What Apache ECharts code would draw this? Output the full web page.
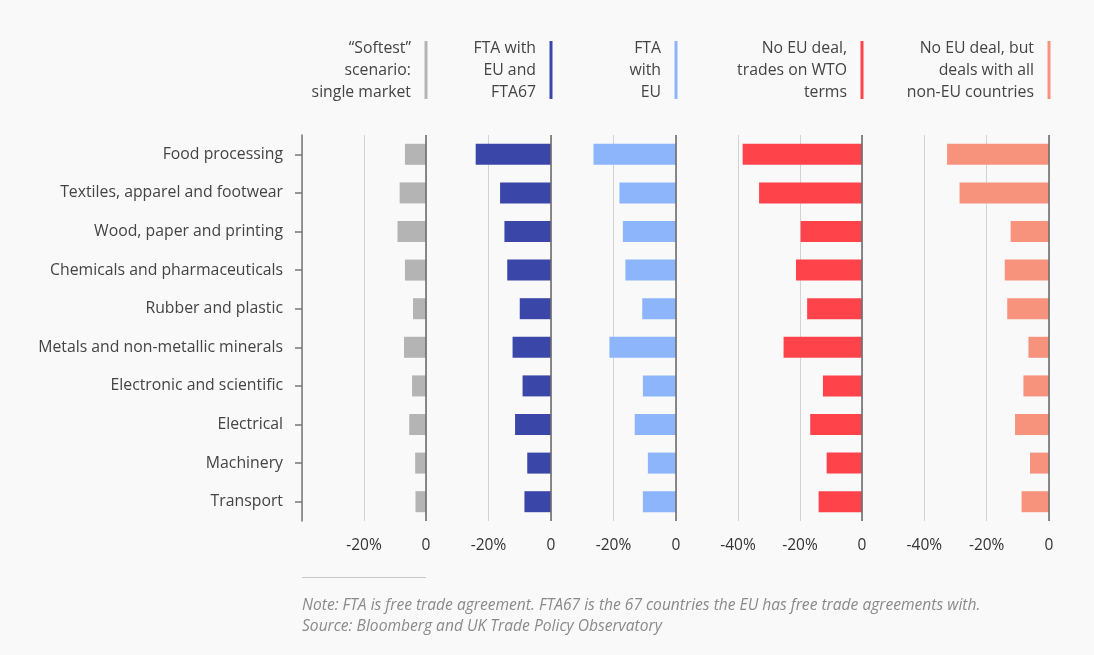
<!DOCTYPE html>
<html>
<head>
<meta charset="utf-8">
<script src="https://cdn.jsdelivr.net/npm/echarts@6/dist/echarts.min.js"></script>
<style>
  html, body { margin: 0; padding: 0; background: #f9f9f9; }
  #chart { width: 1094px; height: 655px; }
</style>
</head>
<body>
<div id="chart"></div>
<script>
// Sectors, top to bottom
const sectors = [
  'Food processing',
  'Textiles, apparel and footwear',
  'Wood, paper and printing',
  'Chemicals and pharmaceuticals',
  'Rubber and plastic',
  'Metals and non-metallic minerals',
  'Electronic and scientific',
  'Electrical',
  'Machinery',
  'Transport'
];

// Scenario headers
const scenarioNames = [
  '\u201cSoftest\u201d\nscenario:\nsingle market',
  'FTA with\nEU and\nFTA67',
  'FTA\nwith\nEU',
  'No EU deal,\ntrades on WTO\nterms',
  'No EU deal, but\ndeals with all\nnon-EU countries'
];

// Change in output by sector, % (one array per scenario)
const singleMarket = [-6.8, -8.5, -9.2, -6.8, -4.2, -7.1, -4.5, -5.4, -3.5, -3.4];
const ftaEuFta67   = [-24.1, -16.3, -14.9, -14.0, -10.0, -12.3, -9.1, -11.5, -7.6, -8.5];
const ftaEu        = [-26.4, -18.1, -17.0, -16.2, -10.8, -21.3, -10.6, -13.2, -9.0, -10.6];
const wtoTerms     = [-38.5, -33.2, -19.8, -21.3, -17.7, -25.3, -12.6, -16.7, -11.4, -14.0];
const nonEuDeals   = [-32.7, -28.7, -12.3, -14.2, -13.4, -6.6, -8.2, -10.9, -6.1, -8.8];

// Axis ranges per panel, %
const axisMins = [-40, -40, -40, -60, -60];

const seriesData = [singleMarket, ftaEuFta67, ftaEu, wtoTerms, nonEuDeals];
const colors = ['#b4b4b4', '#3a47a8', '#8db5fc', '#ff434b', '#f7937d'];

const FONT = '"Open Sans", Lato, sans-serif';
const TEXT = '#444';

// Panel placement: 20 percentage points span ~62px on every panel
const panelLeft  = [302, 426, 551, 676, 862];
const panelWidth = [124, 125, 125, 186, 187];
const TOP = 135, BOTTOM_GAP = 655 - 521;

const grids = [], xAxes = [], yAxes = [], series = [];
for (let i = 0; i < 5; i++) {
  grids.push({ left: panelLeft[i], width: panelWidth[i], top: TOP, bottom: BOTTOM_GAP, containLabel: false });
  xAxes.push({
    type: 'value', gridIndex: i, min: axisMins[i], max: 0, interval: 20,
    axisLine: { show: false }, axisTick: { show: false },
    splitLine: { show: true, lineStyle: { color: '#d2d2d2', width: 1 } },
    axisLabel: {
      showMinLabel: false, margin: 17, color: '#333', fontFamily: FONT, fontSize: 15.5,
      formatter: v => (v === 0 ? '0' : v + '%')
    }
  });
  yAxes.push({
    type: 'category', gridIndex: i, data: sectors, inverse: true,
    show: i === 0,
    axisLine: { show: true, onZero: false, lineStyle: { color: '#777', width: 1.5 } },
    axisTick: { show: true, alignWithLabel: true, length: 7, lineStyle: { color: '#777', width: 1.5 } },
    axisLabel: { margin: 19, color: TEXT, fontFamily: FONT, fontSize: 15.8, padding: [6, 0, 0, 0] },
    splitLine: { show: false }
  });
  series.push({
    type: 'bar', xAxisIndex: i, yAxisIndex: i,
    data: seriesData[i], barWidth: 21,
    itemStyle: { color: colors[i] },
    silent: true,
    markLine: {
      silent: true, symbol: 'none', label: { show: false },
      lineStyle: { color: '#6f6f6f', width: 1.6, type: 'solid' },
      data: [{ xAxis: 0 }]
    }
  });
}

const chart = echarts.init(document.getElementById('chart'), null, { renderer: 'canvas' });
chart.setOption({
  backgroundColor: '#f9f9f9',
  animation: false,
  grid: grids,
  xAxis: xAxes,
  yAxis: yAxes,
  series: series
});

// Scenario headers with a coloured key bar at each panel's zero line,
// plus the note below the chart.
const graphics = [];
for (let i = 0; i < 5; i++) {
  const x0 = chart.convertToPixel({ xAxisIndex: i }, 0);
  graphics.push({
    type: 'text', silent: true,
    style: {
      text: scenarioNames[i], x: x0 - 15, y: 38, align: 'right', verticalAlign: 'top',
      font: '15.8px ' + FONT, fill: TEXT, lineHeight: 21.7
    }
  });
  graphics.push({
    type: 'rect', silent: true,
    shape: { x: x0 - 1.5, y: 41, width: 3, height: 58 },
    style: { fill: colors[i] }
  });
}
const xLeft = chart.convertToPixel({ xAxisIndex: 0 }, -40);
const xZero = chart.convertToPixel({ xAxisIndex: 0 }, 0);
graphics.push({
  type: 'rect', silent: true,
  shape: { x: xLeft, y: 577, width: xZero - xLeft, height: 1 },
  style: { fill: '#c8c8c8' }
});
graphics.push({
  type: 'text', silent: true,
  style: {
    text: 'Note: FTA is free trade agreement. FTA67 is the 67 countries the EU has free trade agreements with.\nSource: Bloomberg and UK Trade Policy Observatory',
    x: xLeft, y: 595, align: 'left', verticalAlign: 'top',
    font: 'italic 15.6px ' + FONT, fill: '#8a8a8a', lineHeight: 21
  }
});
chart.setOption({ graphic: graphics });
</script>
</body>
</html>
